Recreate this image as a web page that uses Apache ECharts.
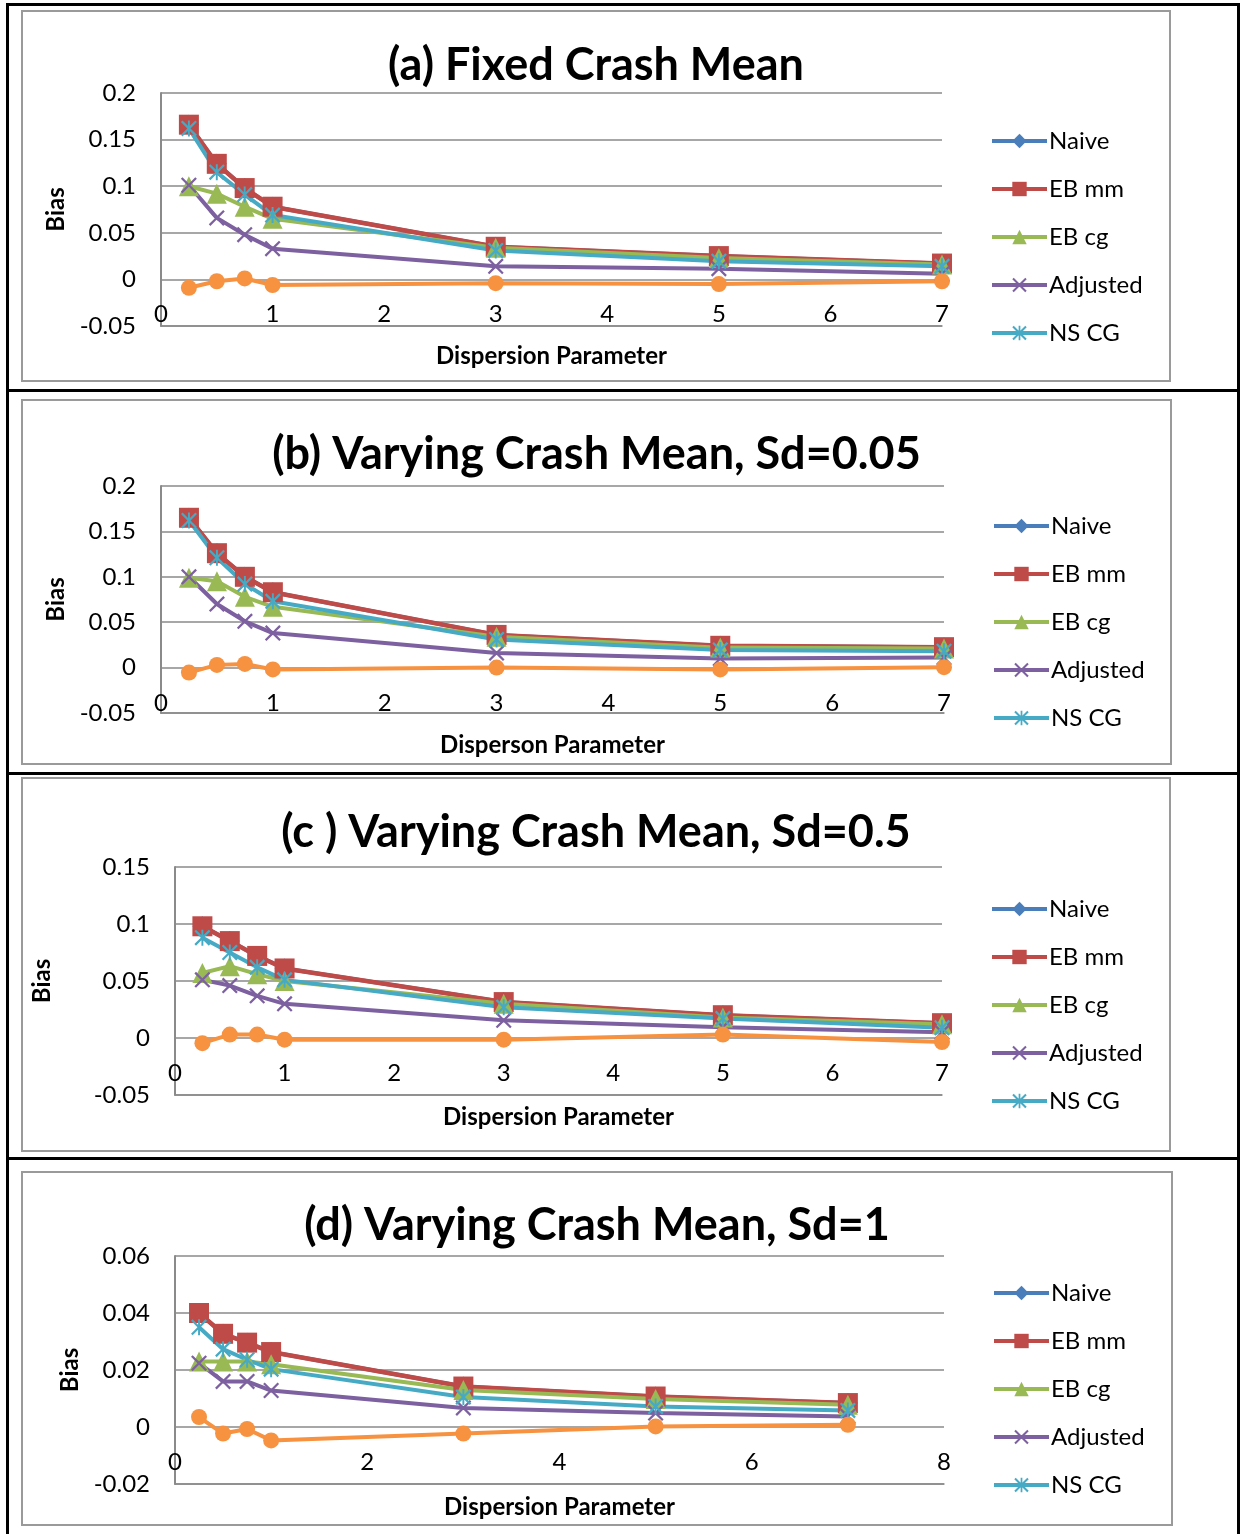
<!DOCTYPE html>
<html>
	<head>
		<meta charset="utf-8">
		<title></title>
		<style type="text/css">
			body{ margin:0; width:1243px; height:1534px; background:#fff; position:relative; overflow:hidden; }
			.bl{ position:absolute; background:#000; }
			.frame{ position:absolute; border:2px solid #9a9a9a; box-sizing:border-box; }
			.chart{ position:absolute; left:0; top:0; width:100%; height:100%; }
		</style>
	</head>
	<body>
		<!-- black table lines -->
		<div class="bl" style="left:6px;top:3px;width:1234px;height:3px;"></div>
		<div class="bl" style="left:6px;top:3px;width:3px;height:1531px;"></div>
		<div class="bl" style="left:1237px;top:3px;width:3px;height:1531px;"></div>
		<div class="bl" style="left:6px;top:389px;width:1234px;height:3px;"></div>
		<div class="bl" style="left:6px;top:772px;width:1234px;height:3px;"></div>
		<div class="bl" style="left:6px;top:1157px;width:1234px;height:3px;"></div>

		<div class="frame" style="left:21px;top:10px;width:1150px;height:372px;"><div class="chart" id="pa"></div></div>
		<div class="frame" style="left:21px;top:399px;width:1151px;height:366px;"><div class="chart" id="pb"></div></div>
		<div class="frame" style="left:21px;top:777px;width:1150px;height:375px;"><div class="chart" id="pc"></div></div>
		<div class="frame" style="left:21px;top:1171px;width:1152px;height:355px;"><div class="chart" id="pd"></div></div>
	</body>
<script src="https://cdn.jsdelivr.net/npm/echarts@6.0.0/dist/echarts.min.js" type="text/javascript" charset="utf-8"></script>

<script type="text/javascript">
	// dispersion parameter values (x)
	var xVals = [0.25, 0.5, 0.75, 1, 3, 5, 7];
	var seriesNames = ['Naive', 'EB mm', 'EB cg', 'Adjusted', 'NS CG'];

	// (a) fixed crash mean
	var aNaive = [0.166, 0.124, 0.098, 0.078, 0.035, 0.025, 0.017];
	var aEBmm  = [0.166, 0.124, 0.098, 0.078, 0.035, 0.025, 0.017];
	var aEBcg  = [0.100, 0.092, 0.078, 0.065, 0.034, 0.023, 0.016];
	var aAdj   = [0.101, 0.066, 0.048, 0.033, 0.014, 0.0115, 0.006];
	var aNSCG  = [0.162, 0.115, 0.091, 0.069, 0.031, 0.0195, 0.014];
	var aOther = [-0.009, -0.002, 0.001, -0.006, -0.004, -0.005, -0.002];

	// (b) varying crash mean, sd=0.05
	var bNaive = [0.165, 0.126, 0.100, 0.083, 0.036, 0.024, 0.0225];
	var bEBmm  = [0.165, 0.126, 0.100, 0.083, 0.036, 0.024, 0.0225];
	var bEBcg  = [0.099, 0.095, 0.078, 0.067, 0.034, 0.022, 0.021];
	var bAdj   = [0.100, 0.070, 0.051, 0.038, 0.016, 0.010, 0.011];
	var bNSCG  = [0.162, 0.121, 0.092, 0.073, 0.031, 0.0195, 0.018];
	var bOther = [-0.0055, 0.003, 0.004, -0.002, 0, -0.002, 0.0005];

	// (c) varying crash mean, sd=0.5
	var cNaive = [0.098, 0.085, 0.072, 0.061, 0.0315, 0.020, 0.013];
	var cEBmm  = [0.098, 0.085, 0.072, 0.061, 0.0315, 0.020, 0.013];
	var cEBcg  = [0.057, 0.063, 0.056, 0.050, 0.030, 0.018, 0.012];
	var cAdj   = [0.051, 0.046, 0.037, 0.030, 0.0155, 0.0095, 0.005];
	var cNSCG  = [0.088, 0.075, 0.062, 0.051, 0.027, 0.017, 0.009];
	var cOther = [-0.0045, 0.003, 0.003, -0.0015, -0.0015, 0.003, -0.0035];

	// (d) varying crash mean, sd=1
	var dNaive = [0.040, 0.0327, 0.0296, 0.0263, 0.0142, 0.0107, 0.0084];
	var dEBmm  = [0.040, 0.0327, 0.0296, 0.0263, 0.0142, 0.0107, 0.0084];
	var dEBcg  = [0.023, 0.023, 0.023, 0.022, 0.013, 0.0098, 0.0078];
	var dAdj   = [0.0224, 0.016, 0.016, 0.0128, 0.0067, 0.0049, 0.0037];
	var dNSCG  = [0.035, 0.0273, 0.0236, 0.0203, 0.0105, 0.0072, 0.0058];
	var dOther = [0.0035, -0.0023, -0.0007, -0.0047, -0.0023, 0.0002, 0.0008];

	var FONT = 'Lato';
	var colors = ['#4A7EBB', '#BE4B48', '#98B954', '#7D60A0', '#46AAC5', '#F69240'];
	var xMark = 'path://M0,1 L1,0 L5,4 L9,0 L10,1 L6,5 L10,9 L9,10 L5,6 L1,10 L0,9 L4,5 Z';
	var starMark = xMark + ' M4.4,0 L5.6,0 L5.6,10 L4.4,10 Z';
	var symbols = ['diamond', 'rect', 'triangle', xMark, starMark, 'circle'];
	var symSizes = [20, 20, 20, 16, 16, 16];

	// page coordinates of each panel
	var panels = [
		{id:'pa', fx:21, fy:10, title:'(a) Fixed Crash Mean', xName:'Dispersion Parameter',
			g:[161, 942, 93, 326], yMin:-0.05, yMax:0.2, yInt:0.05, xMax:7, xInt:1,
			titleY:61, biasX:58, xNameY:356, legX:990, legY:141,
			data:[aNaive, aEBmm, aEBcg, aAdj, aNSCG, aOther]},
		{id:'pb', fx:21, fy:399, title:'(b) Varying Crash Mean, Sd=0.05', xName:'Disperson Parameter',
			g:[161, 944, 486, 713], yMin:-0.05, yMax:0.2, yInt:0.05, xMax:7, xInt:1,
			titleY:450, biasX:58, xNameY:745, legX:992, legY:526,
			data:[bNaive, bEBmm, bEBcg, bAdj, bNSCG, bOther]},
		{id:'pc', fx:21, fy:777, title:'(c ) Varying Crash Mean, Sd=0.5', xName:'Dispersion Parameter',
			g:[175, 942, 867, 1095], yMin:-0.05, yMax:0.15, yInt:0.05, xMax:7, xInt:1,
			titleY:828, biasX:42, xNameY:1117, legX:990, legY:909,
			data:[cNaive, cEBmm, cEBcg, cAdj, cNSCG, cOther]},
		{id:'pd', fx:21, fy:1171, title:'(d) Varying Crash Mean, Sd=1', xName:'Dispersion Parameter',
			g:[175, 944, 1256, 1484], yMin:-0.02, yMax:0.06, yInt:0.02, xMax:8, xInt:2,
			titleY:1221, biasX:72, xNameY:1507, legX:992, legY:1293,
			data:[dNaive, dEBmm, dEBcg, dAdj, dNSCG, dOther]}
	];

	function pairs(ys){
		var out = [];
		for (var i = 0; i < xVals.length; i++){
			out.push([xVals[i], ys[i]]);
		}
		return out;
	}

	for (var p = 0; p < panels.length; p++){
		var P = panels[p];
		var dom = document.getElementById(P.id);
		var ox = P.fx + 2, oy = P.fy + 2;
		var W = dom.clientWidth, H = dom.clientHeight;
		var zeroY = P.g[2] + (P.g[3] - P.g[2]) * (P.yMax / (P.yMax - P.yMin));
		// x tick labels sit ~35px under the zero line, as in the original
		var labelMargin = Math.round(zeroY + 35 - 12 - P.g[3]);

		var series = [];
		for (var s = 0; s < 6; s++){
			series.push({
				name: s < 5 ? seriesNames[s] : 'Other',
				type: 'line',
				data: pairs(P.data[s]),
				symbol: symbols[s],
				symbolSize: symSizes[s],
				showAllSymbol: true,
				lineStyle: {color: colors[s], width: s == 1 ? 4.5 : 4},
				itemStyle: {color: colors[s]},
				emphasis: {disabled: true},
				animation: false
			});
		}

		var option = {
			textStyle: {fontFamily: FONT},
			title: {
				text: P.title, left: 'center', top: P.titleY - oy - 23,
				textStyle: {fontFamily: FONT, fontSize: 45, fontWeight: 'bold', color: '#000'}
			},
			legend: {
				data: seriesNames, orient: 'vertical',
				left: P.legX - ox, top: P.legY - oy - 12,
				itemWidth: 55, itemHeight: 18, itemGap: 24, padding: 0,
				lineStyle: {width: 4},
				textStyle: {fontFamily: FONT, fontSize: 24, color: '#000', padding: [0, 0, 0, -3]},
				selectedMode: false
			},
			grid: {
				left: P.g[0] - ox, right: W - (P.g[1] - ox), top: P.g[2] - oy, bottom: H - (P.g[3] - oy),
				outerBoundsMode: 'none', containLabel: false
			},
			xAxis: {
				type: 'value', min: 0, max: P.xMax, interval: P.xInt,
				name: P.xName, nameLocation: 'middle', nameGap: P.xNameY - P.g[3] - 12,
				nameTextStyle: {fontFamily: FONT, fontSize: 24, fontWeight: 'bold', color: '#000'},
				axisLine: {show: true, onZero: false, lineStyle: {color: '#8a8a8a', width: 1.5}},
				axisTick: {show: false},
				axisLabel: {fontFamily: FONT, fontSize: 24, color: '#000', margin: labelMargin},
				splitLine: {show: false}
			},
			yAxis: {
				type: 'value', min: P.yMin, max: P.yMax, interval: P.yInt,
				name: 'Bias', nameLocation: 'middle', nameGap: P.g[0] - P.biasX - 12,
				nameTextStyle: {fontFamily: FONT, fontSize: 24, fontWeight: 'bold', color: '#000'},
				axisLine: {show: true, onZero: false, lineStyle: {color: '#8a8a8a', width: 2}},
				axisTick: {show: false},
				axisLabel: {
					fontFamily: FONT, fontSize: 24, color: '#000', margin: 25,
					formatter: function(v){ return String(Math.round(v * 100) / 100); }
				},
				splitLine: {show: true, lineStyle: {color: '#8a8a8a', width: 1.5}}
			},
			series: series
		};

		var myChart = echarts.init(dom);
		myChart.setOption(option);
	}
</script>
</html>
